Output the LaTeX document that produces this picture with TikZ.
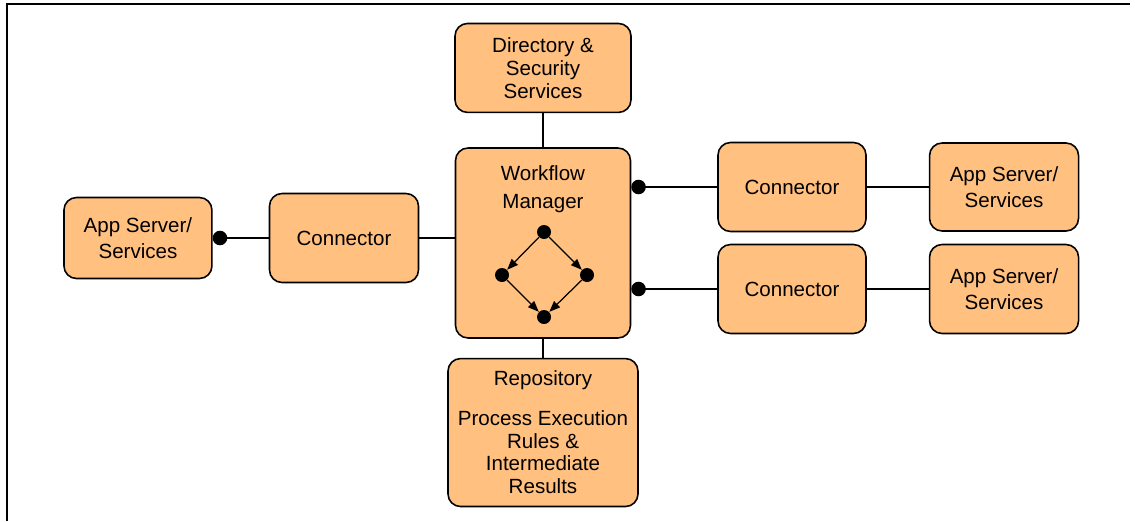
\documentclass[tikz,border=0pt]{standalone}
\usepackage{fontspec}
\setmainfont{Liberation Sans}
\usetikzlibrary{arrows.meta, positioning}
\definecolor{boxorange}{RGB}{255,192,128}

\begin{document}
\begin{tikzpicture}[
    x=0.02cm, y=-0.02cm,
    font=\fontsize{11.7}{13}\selectfont,
    block/.style={rectangle, draw, fill=boxorange, rounded corners=0.25cm, line width=0.9pt, align=center, inner sep=2pt},
    link/.style={line width=1.5pt},
    dotlink/.style={link, -{Circle[length=0.29cm]}},
    flowdot/.style={circle, fill, inner sep=0pt, minimum size=0.28cm},
    flow/.style={-{Triangle[length=2.2mm, width=1.7mm]}, line width=0.7pt}
]
    \useasboundingbox (0,0) rectangle (1135,521);
    \draw[line width=1.2pt] (7,521) -- (7,4) -- (1130,4);

    \node[block, minimum width=3.5cm, minimum height=3.8cm] (wfm) at (543,243) {};
    \node[align=center] (wfmtitle) at (543,189) {Workflow\\[3pt]Manager};
    \node[block, minimum width=3.52cm, minimum height=1.78cm, above=0.68cm of wfm] (dir) {\raisebox{-3pt}{\parbox{3cm}{\centering Directory \&\\Security\\Services}}};
    \node[block, minimum width=3.8cm, minimum height=2.96cm, below=0.38cm of wfm] (repo) {Repository\\[0.33cm]Process Execution\\Rules \&\\Intermediate\\Results};

    \node[block, minimum width=2.98cm, minimum height=1.78cm] (connL) at (344,238) {Connector};
    \node[block, minimum width=2.96cm, minimum height=1.62cm, left=1.12cm of connL] (appL) {App Server/\\[2pt]Services};
    \node[block, minimum width=2.96cm, minimum height=1.78cm] (connA) at (792,187) {Connector};
    \node[block, minimum width=2.98cm, minimum height=1.76cm, right=1.24cm of connA] (appA) {App Server/\\[2pt]Services};
    \node[block, minimum width=2.96cm, minimum height=1.78cm] (connB) at (792,289) {Connector};
    \node[block, minimum width=2.98cm, minimum height=1.78cm, right=1.24cm of connB] (appB) {App Server/\\[2pt]Services};

    \draw[link] (dir) -- (wfm);
    \draw[link] (wfm) -- (repo);
    \draw[link] (connL.east) -- (connL.east -| wfm.west);
    \draw[dotlink] (connL) -- (appL);
    \draw[dotlink] (connA.west) -- (connA.west -| wfm.east);
    \draw[dotlink] (connB.west) -- (connB.west -| wfm.east);
    \draw[link] (connA) -- (appA);
    \draw[link] (connB) -- (appB);

    \node[flowdot] (ftop) at (544,232) {};
    \node[flowdot] (fleft) at (502,275) {};
    \node[flowdot] (fright) at (587,275) {};
    \node[flowdot] (fbottom) at (544,317) {};
    \draw[flow] (ftop) -- (fleft);
    \draw[flow] (ftop) -- (fright);
    \draw[flow] (fleft) -- (fbottom);
    \draw[flow] (fright) -- (fbottom);
\end{tikzpicture}
\end{document}
